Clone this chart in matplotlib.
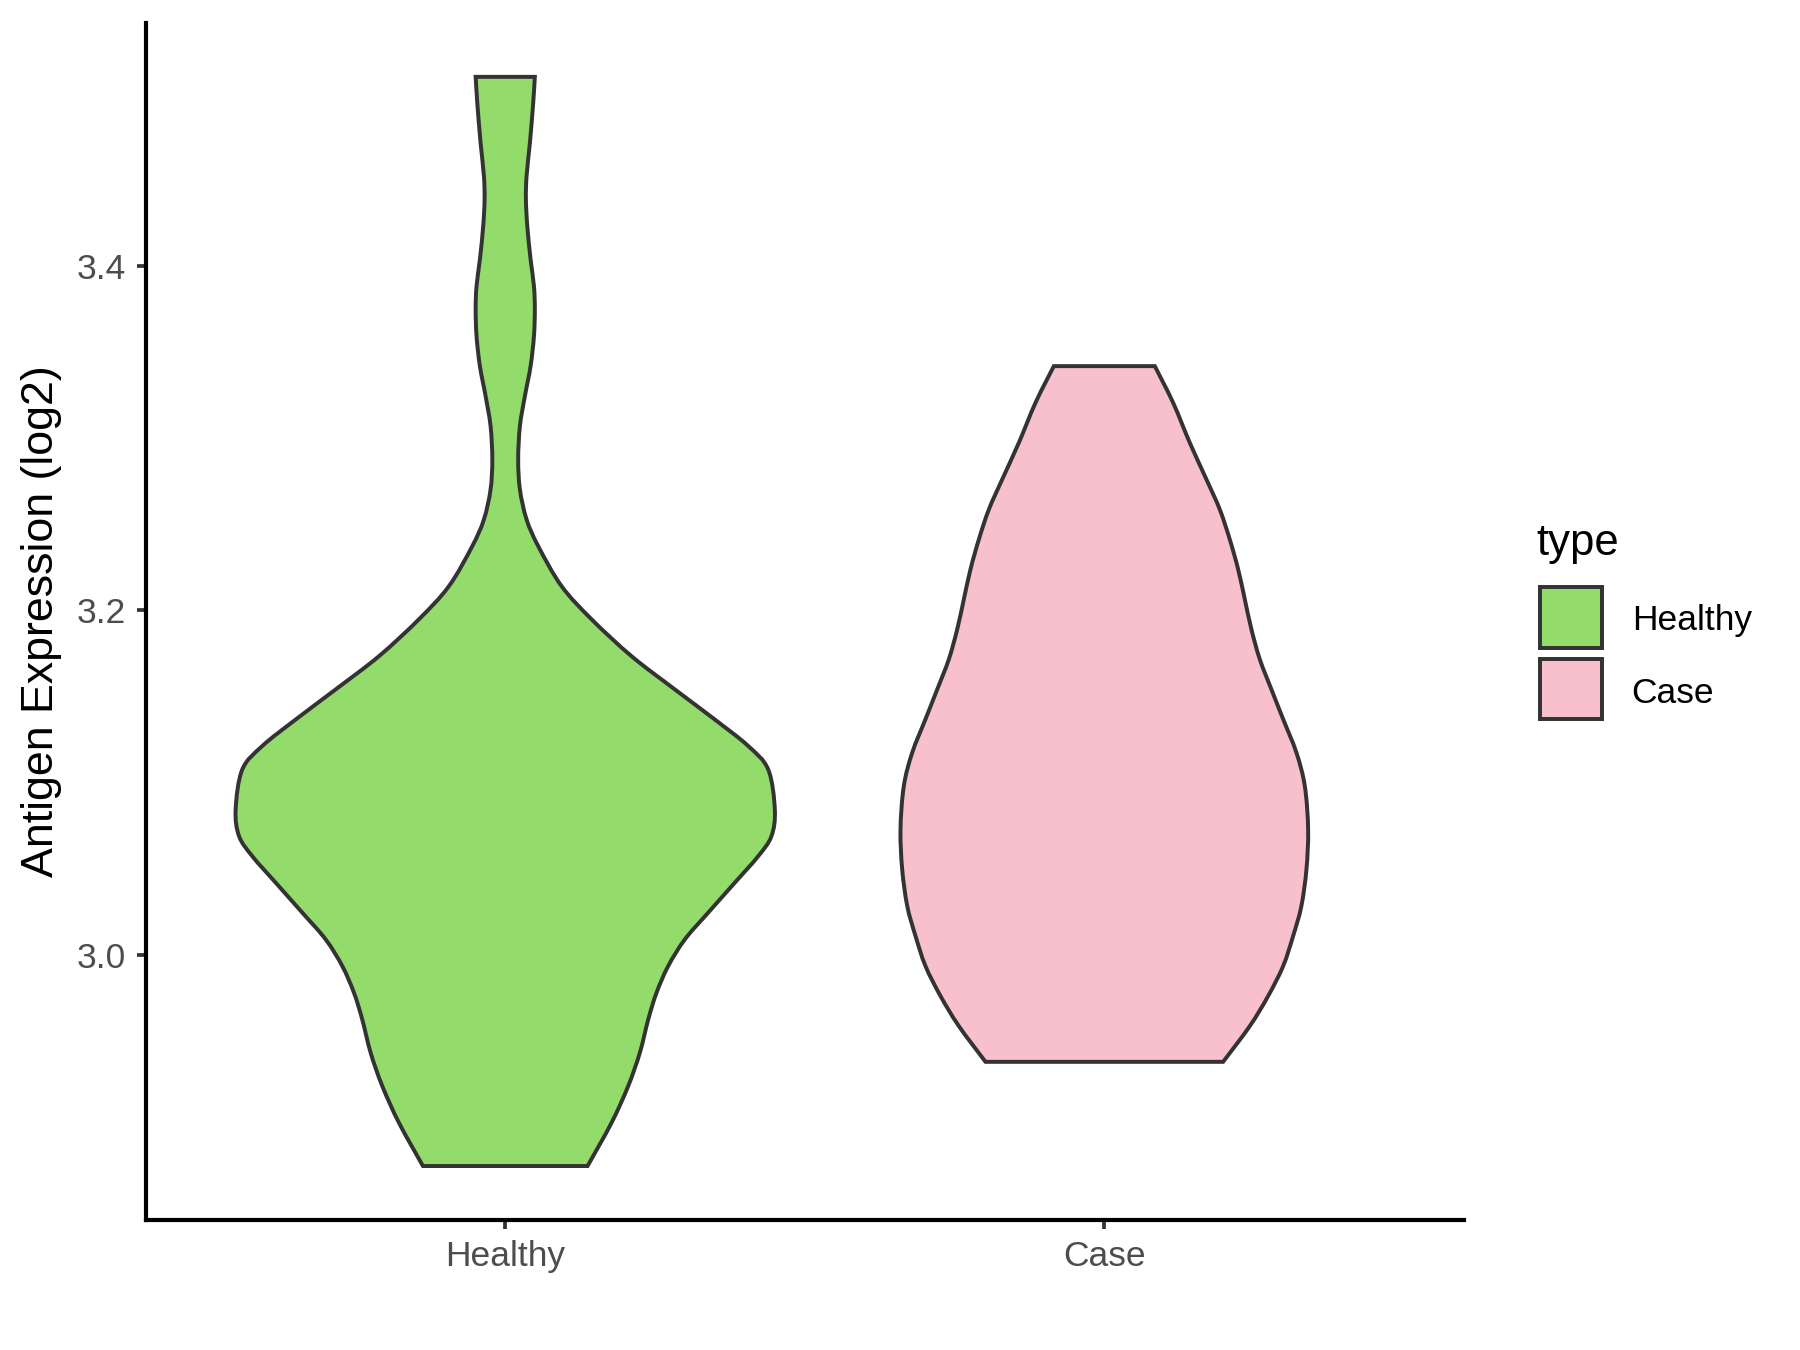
import numpy as np
import matplotlib.pyplot as plt
from matplotlib.path import Path
from matplotlib.patches import PathPatch, Rectangle

plt.rcParams['font.family'] = ['Liberation Sans', 'DejaVu Sans']

# groups and colours
groups = ['Healthy', 'Case']
fill_colors = ['#93DB6B', '#F7C0CC']
edge = '#333333'

# violin outlines: y value and half width (x units), top -> bottom
healthy_y = [3.5097, 3.4947, 3.4715, 3.4521, 3.4385, 3.423, 3.4037, 3.3882, 3.3747,
             3.3591, 3.3417, 3.3243, 3.3069, 3.2875, 3.2701, 3.2527, 3.2372, 3.214,
             3.1947, 3.1733, 3.154, 3.1365, 3.1211, 3.1075, 3.0843, 3.0688,
             3.0571, 3.0417, 3.0243, 3.0088, 2.9933, 2.9778, 2.9623, 2.943, 2.9236,
             2.9023, 2.8772]
healthy_w = [0.0494, 0.0467, 0.0412, 0.0356, 0.0345, 0.0368, 0.0423, 0.0479, 0.0494,
             0.0479, 0.0423, 0.0328, 0.0245, 0.0216, 0.0245, 0.0356, 0.055, 0.0939,
             0.1441, 0.2107, 0.283, 0.3498, 0.4056, 0.4389, 0.45, 0.4444,
             0.4222, 0.3831, 0.3387, 0.2998, 0.272, 0.2525, 0.2387, 0.2247, 0.2052,
             0.1774, 0.1374]

case_y = [3.3417, 3.3205, 3.2972, 3.2759, 3.2585, 3.2411, 3.2237, 3.2063, 3.1888,
          3.1714, 3.154, 3.1367, 3.1172, 3.0978, 3.0727, 3.0495, 3.0281, 3.0107,
          2.9933, 2.9759, 2.9585, 2.9377]
case_w = [0.0843, 0.1148, 0.1427, 0.1705, 0.1927, 0.2094, 0.2234, 0.2345, 0.2456,
          0.2596, 0.2789, 0.2985, 0.3207, 0.3347, 0.3402, 0.3374, 0.3289, 0.3151,
          0.2985, 0.2734, 0.2429, 0.1983]

profiles = [(healthy_y, healthy_w), (case_y, case_w)]


def smooth(px, py):
    # catmull-rom -> cubic bezier control points
    pts = np.column_stack([px, py])
    verts = [pts[0]]
    n = len(pts)
    for i in range(n - 1):
        p0 = pts[i - 1] if i > 0 else pts[i]
        p1 = pts[i]
        p2 = pts[i + 1]
        p3 = pts[i + 2] if i + 2 < n else pts[i + 1]
        verts += [p1 + (p2 - p0) / 6, p2 - (p3 - p1) / 6, p2]
    return verts


fig = plt.figure(figsize=(12, 9), dpi=150)
ax = fig.add_axes([0.081, 0.0961, 0.7322, 0.8869])

for i, (ys, ws) in enumerate(profiles):
    c = i + 1
    ys = np.array(ys)[::-1]   # bottom -> top
    ws = np.array(ws)[::-1]
    right = smooth(c + ws, ys)
    left = smooth(c - ws[::-1], ys[::-1])
    verts = right + left + [right[0]]
    codes = ([Path.MOVETO] + [Path.CURVE4] * (len(right) - 1) + [Path.LINETO]
             + [Path.CURVE4] * (len(left) - 1) + [Path.CLOSEPOLY])
    ax.add_patch(PathPatch(Path(verts, codes), facecolor=fill_colors[i],
                           edgecolor=edge, lw=1.9, joinstyle='miter'))

ax.set_xlim(0.4, 2.6)
ax.set_ylim(2.8457, 3.541)
ax.set_xticks([1, 2])
ax.set_xticklabels(groups)
ax.set_yticks([3.0, 3.2, 3.4])
ax.set_yticklabels(['3.0', '3.2', '3.4'])
ax.spines['top'].set_visible(False)
ax.spines['right'].set_visible(False)
for s in ['left', 'bottom']:
    ax.spines[s].set_linewidth(2.0)
    ax.spines[s].set_color('black')
ax.tick_params(axis='both', length=4.5, width=1.8, color=edge,
               labelsize=17, labelcolor='#4D4D4D', pad=5)
ax.set_ylabel('Antigen Expression (log2)', fontsize=21.5, labelpad=7)

# legend
fig.text(0.8533, 0.5889, 'type', fontsize=21, va='baseline', ha='left')
key_y = [0.5202, 0.4672]
lab_y = [0.5333, 0.4795]
for i, g in enumerate(groups):
    fig.add_artist(Rectangle((0.8558, key_y[i]), 0.0342, 0.0447,
                             transform=fig.transFigure, facecolor=fill_colors[i],
                             edgecolor=edge, lw=1.9))
    fig.text(0.9065, lab_y[i], g, fontsize=17, va='baseline', ha='left')

fig.savefig('out.png', dpi=150)
